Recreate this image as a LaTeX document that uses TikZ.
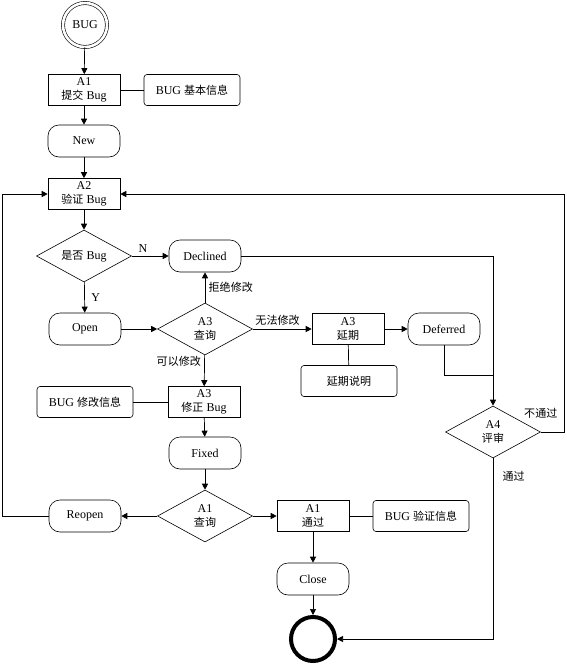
\documentclass[tikz,border=0pt]{standalone}
\usepackage{fontspec}
\setmainfont{Liberation Serif}
\newfontfamily\cjk{Noto Sans CJK SC}[Scale=0.92]
\usetikzlibrary{shapes.geometric,arrows.meta}

\begin{document}
\begin{tikzpicture}[x=1pt, y=-1pt,
    font=\fontsize{12}{14}\selectfont,
    box/.style={rectangle, draw, line width=0.6pt, minimum width=72pt, minimum height=31pt, inner sep=0pt, align=center},
    state/.style={rectangle, draw, line width=0.6pt, rounded corners=11pt, minimum width=72pt, minimum height=32pt, inner sep=0pt},
    info/.style={rectangle, draw, line width=0.6pt, rounded corners=3pt, minimum width=96pt, minimum height=31pt, inner sep=0pt},
    check/.style={diamond, draw, line width=0.6pt, aspect=1.8, minimum width=95pt, minimum height=52pt, inner sep=0pt, align=center},
    flow/.style={line width=0.7pt, -{Triangle[length=6pt,width=6pt]}},
    link/.style={line width=0.7pt}]
    \useasboundingbox (0,0) rectangle (567,665);

    \node[circle, draw, double, double distance=2.6pt, line width=0.6pt, minimum size=44pt, inner sep=0pt] (bug) at (85,25) {BUG};
    \node[box] (submit) at (84,90) {A1\\{\cjk 提交} Bug};
    \node[info] (baseinfo) at (192,90) {BUG {\cjk 基本信息}};
    \node[state] (new) at (84,141) {New};
    \node[box] (verify) at (84,194) {A2\\{\cjk 验证} Bug};
    \node[check] (isbug) at (84,256) {{\cjk 是否} Bug};
    \node[state] (declined) at (205,256) {Declined};
    \node[state] (open) at (85,329) {Open};
    \node[check] (query3) at (205,329) {A3\\{\cjk 查询}};
    \node[box] (delay) at (348,329) {A3\\{\cjk 延期}};
    \node[state] (deferred) at (444,329) {Deferred};
    \node[info] (delaynote) at (349,381) {{\cjk 延期说明}};
    \node[box] (fix) at (204,402) {A3\\{\cjk 修正} Bug};
    \node[info] (fixinfo) at (85,402) {BUG {\cjk 修改信息}};
    \node[check] (review) at (493,432) {A4\\{\cjk 评审}};
    \node[state] (fixed) at (205,453) {Fixed};
    \node[check] (query1) at (205,516) {A1\\{\cjk 查询}};
    \node[state] (reopen) at (85,516) {Reopen};
    \node[box] (pass) at (313,516) {A1\\{\cjk 通过}};
    \node[info] (passinfo) at (421,516) {BUG {\cjk 验证信息}};
    \node[state] (close) at (313,579) {Close};
    \node[circle, draw, line width=4pt, minimum size=44pt] (finish) at (313,639) {};

    \coordinate (leftrail) at (2,194);
    \coordinate (rightrail) at (564,194);
    \coordinate (merge) at (493,375);

    \draw[flow] (bug) to (submit);
    \draw[link] (submit) to (baseinfo);
    \draw[flow] (submit) to (new);
    \draw[flow] (new) to (verify);
    \draw[flow] (verify) to (isbug);
    \draw[flow] (isbug) to node[pos=0.3, above] {N} (declined);
    \draw[flow] (isbug) to node[midway, right, xshift=3pt] {Y} (open);
    \draw[flow] (open) to (query3);
    \draw[flow] (query3) to node[midway, right] {\cjk 拒绝修改} (declined);
    \draw[flow] (query3) to node[pos=0.42, above] {\cjk 无法修改} (delay);
    \draw[flow] (query3) to node[pos=0.2, left] {\cjk 可以修改} (fix);
    \draw[flow] (delay) to (deferred);
    \draw[link] (delay) to (delaynote);
    \draw[link] (fix) to (fixinfo);
    \draw[flow] (fix) to (fixed);
    \draw[flow] (fixed) to (query1);
    \draw[flow] (query1) to (reopen);
    \draw[flow] (query1) to (pass);
    \draw[link] (pass) to (passinfo);
    \draw[flow] (pass) to (close);
    \draw[flow] (close) to (finish);

    \draw[flow] (declined.east) -| (review.north);
    \draw[link] (deferred.south) |- (merge);
    \draw[flow] (reopen.west) -| (leftrail) to (verify.west);
    \draw[flow] (review.east) node[above, yshift=10pt] {\cjk 不通过} -| (rightrail) to (verify.east);
    \draw[flow] (review.south) |- node[pos=0.05, right, xshift=6pt] {\cjk 通过} (finish.east);
\end{tikzpicture}
\end{document}
